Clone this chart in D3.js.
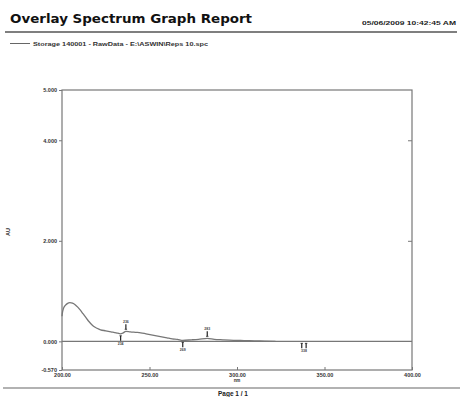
<!DOCTYPE html>
<html>
<head>
<meta charset="utf-8">
<script src="https://cdn.jsdelivr.net/npm/d3@7"></script>
<style>
  body { margin: 0; background: #fff; }
  svg { display: block; font-family: "Liberation Sans", Arial, sans-serif; }
</style>
</head>
<body>
<div id="chart"></div>
<script>
// spectrum
const wavelength = [200.0, 200.3, 200.7, 201.3, 202.0, 203.0, 204.5, 206.0, 207.5, 209.0, 210.5, 212.0,
  213.5, 215.0, 216.5, 218.0, 220.0, 222.0, 225.0, 228.0, 231.0, 233.5, 235.0, 236.5, 239.0, 242.0,
  245.0, 248.0, 251.0, 254.0, 257.0, 260.0, 263.0, 266.0, 269.0, 274.0, 278.0, 283.0, 287.0, 292.0,
  298.0, 304.0, 310.0, 316.0, 322.0];
const absorbance = [0.50, 0.58, 0.64, 0.69, 0.72, 0.75, 0.77, 0.76, 0.73, 0.68, 0.62, 0.55,
  0.48, 0.41, 0.35, 0.30, 0.26, 0.23, 0.21, 0.19, 0.17, 0.15, 0.17, 0.20, 0.19, 0.18,
  0.17, 0.15, 0.13, 0.11, 0.09, 0.07, 0.05, 0.04, 0.02, 0.03, 0.04, 0.06, 0.04, 0.03,
  0.02, 0.015, 0.01, 0.005, 0.0];

// peak / valley picks
const pickNm = [233.5, 236.5, 269.0, 283.0, 337.0, 339.5];
const pickAu = [0.15, 0.20, 0.02, 0.06, 0.0, 0.0];
const pickDir = [1, -1, 1, -1, 1, 1];
const pickLabel = ["234", "236", "269", "283", "", "338"];

const yTicks = [-0.57, 0, 2, 4, 5];
const yTickLabels = ["-0.570", "0.000", "2.000", "4.000", "5.000"];
const xTicks = [200, 250, 300, 350, 400];
const xTickLabels = ["200.00", "250.00", "300.00", "350.00", "400.00"];

const title = "Overlay Spectrum Graph Report";
const stamp = "05/06/2009   10:42:45 AM";
const legendText = "Storage 140001 - RawData - E:\\ASWIN\\Reps 10.spc";

const W = 462, H = 397;
const axisColor = "#777";

const svg = d3.select("#chart").append("svg")
  .attr("width", W).attr("height", H);

const x = d3.scaleLinear().domain([200, 400]).range([62, 412]);
const y = d3.scaleLinear().domain([-0.57, 5]).range([370, 90]);

// header
svg.append("text")
  .attr("x", 10).attr("y", 23)
  .attr("font-family", "DejaVu Sans, sans-serif")
  .attr("font-weight", 900).attr("font-size", 12.5)
  .attr("textLength", 242).attr("lengthAdjust", "spacingAndGlyphs")
  .attr("fill", "#111")
  .text(title);

svg.append("text")
  .attr("x", 456).attr("y", 25)
  .attr("text-anchor", "end")
  .attr("font-weight", "bold").attr("font-size", 6)
  .attr("textLength", 94).attr("lengthAdjust", "spacingAndGlyphs")
  .attr("fill", "#222")
  .text(stamp);

svg.append("line")
  .attr("x1", 5).attr("x2", 457).attr("y1", 32).attr("y2", 32)
  .attr("stroke", "#555").attr("stroke-width", 1.5);

svg.append("line")
  .attr("x1", 10).attr("x2", 30).attr("y1", 43.5).attr("y2", 43.5)
  .attr("stroke", "#666").attr("stroke-width", 1);

svg.append("text")
  .attr("x", 33).attr("y", 45.5)
  .attr("font-weight", "bold").attr("font-size", 5)
  .attr("textLength", 175).attr("lengthAdjust", "spacingAndGlyphs")
  .attr("fill", "#333")
  .text(legendText);

// frame
const plot = svg.append("g");
plot.append("rect")
  .attr("x", x(200)).attr("y", y(5))
  .attr("width", x(400) - x(200)).attr("height", y(-0.57) - y(5))
  .attr("fill", "none").attr("stroke", axisColor).attr("stroke-width", 1.2);

// left axis
const left = svg.append("g")
  .attr("transform", `translate(${x(200)},0)`)
  .call(d3.axisLeft(y).tickValues(yTicks).tickSize(3).tickPadding(2)
    .tickFormat((d, i) => yTickLabels[i]));
left.select(".domain").remove();
left.selectAll("line").attr("stroke", axisColor);
left.selectAll("text").attr("font-size", 5.5).attr("font-weight", "bold").attr("fill", "#333");

// right axis, inner ticks only
const right = svg.append("g")
  .attr("transform", `translate(${x(400)},0)`)
  .call(d3.axisLeft(y).tickValues([2, 4]).tickSize(4).tickFormat(""));
right.select(".domain").remove();
right.selectAll("line").attr("stroke", axisColor);

// bottom axis
const bottom = svg.append("g")
  .attr("transform", `translate(0,${y(-0.57)})`)
  .call(d3.axisBottom(x).tickValues(xTicks).tickSize(-3).tickPadding(3)
    .tickFormat((d, i) => xTickLabels[i]));
bottom.select(".domain").remove();
bottom.selectAll("line").attr("stroke", axisColor);
bottom.selectAll("text").attr("font-size", 5.5).attr("font-weight", "bold").attr("fill", "#333");

svg.append("text")
  .attr("x", x(300)).attr("y", 382)
  .attr("text-anchor", "middle")
  .attr("font-size", 4.5).attr("font-weight", "bold").attr("fill", "#333")
  .text("nm");

svg.append("text")
  .attr("transform", `translate(10,232) rotate(-90)`)
  .attr("text-anchor", "middle")
  .attr("font-size", 5.5).attr("font-weight", "bold").attr("fill", "#333")
  .text("AU");

// zero line
plot.append("line")
  .attr("x1", x(200)).attr("x2", x(400))
  .attr("y1", y(0)).attr("y2", y(0))
  .attr("stroke", axisColor).attr("stroke-width", 1.1);

// spectrum
const pts = wavelength.map((w, i) => [w, absorbance[i]]);
const line = d3.line()
  .x(d => x(d[0]))
  .y(d => y(d[1]))
  .curve(d3.curveMonotoneX);

plot.append("path")
  .datum(pts)
  .attr("d", line)
  .attr("fill", "none")
  .attr("stroke", "#777")
  .attr("stroke-width", 1.3);

// picks
pickNm.forEach((nm, i) => {
  const px = x(nm), py = y(pickAu[i]), dir = pickDir[i];
  const y1 = py + dir * 2, y2 = py + dir * 7;
  plot.append("line")
    .attr("x1", px).attr("x2", px).attr("y1", y1).attr("y2", y2)
    .attr("stroke", "#222").attr("stroke-width", 1.2);
  plot.append("line")
    .attr("x1", px - 1.2).attr("x2", px + 1.2).attr("y1", y1).attr("y2", y1)
    .attr("stroke", "#222").attr("stroke-width", 0.8);
  if (pickLabel[i]) {
    plot.append("text")
      .attr("x", i === 5 ? (px + x(pickNm[4])) / 2 : px)
      .attr("y", dir > 0 ? y2 + 4 : y2 - 1.5)
      .attr("text-anchor", "middle")
      .attr("font-size", 3.5).attr("font-weight", "bold").attr("fill", "#444")
      .text(pickLabel[i]);
  }
});

// footer
svg.append("line")
  .attr("x1", 3).attr("x2", 460).attr("y1", 388).attr("y2", 388)
  .attr("stroke", "#666").attr("stroke-width", 1.2);

svg.append("text")
  .attr("x", 233).attr("y", 396)
  .attr("text-anchor", "middle")
  .attr("font-weight", "bold").attr("font-size", 6.5)
  .attr("fill", "#222")
  .text("Page 1 / 1");
</script>
</body>
</html>
